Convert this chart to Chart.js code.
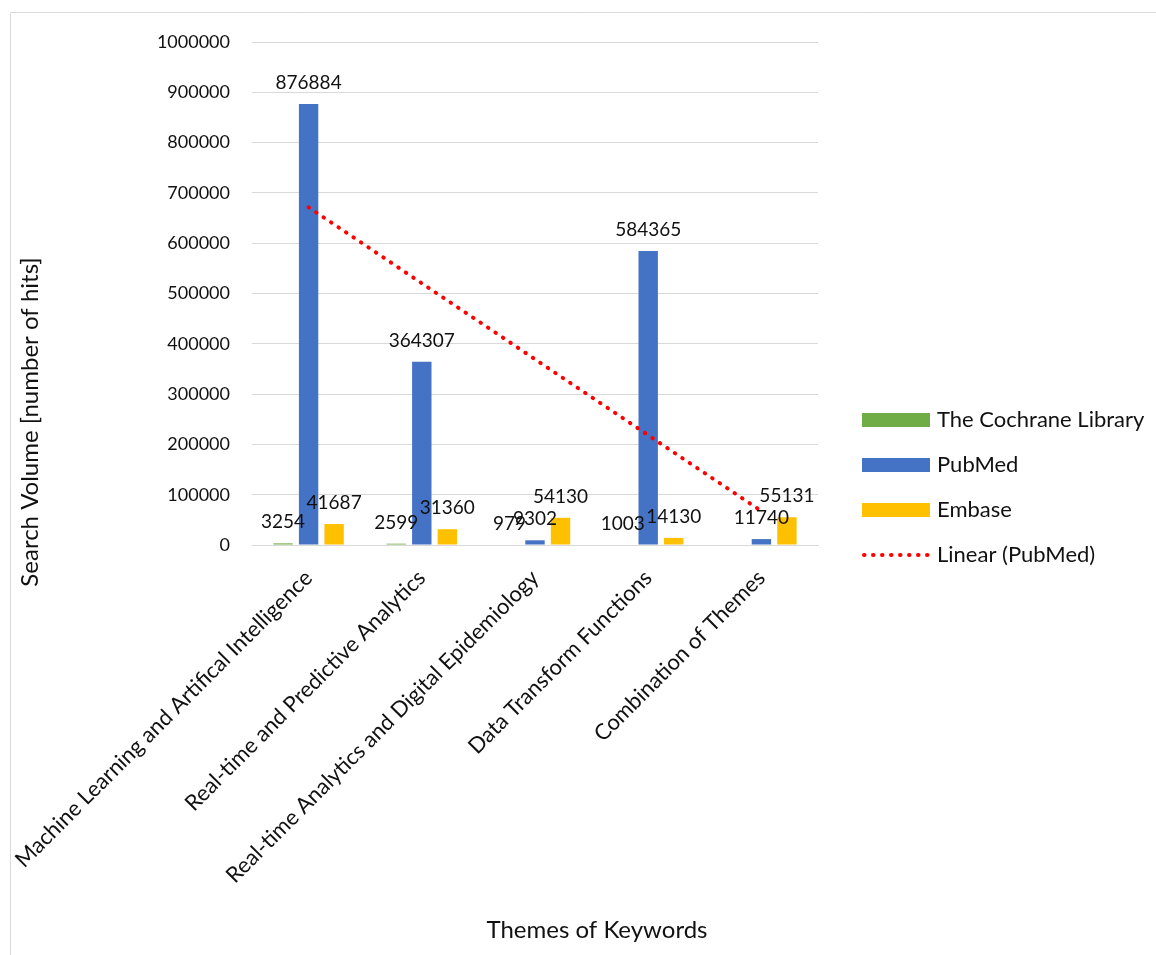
<!DOCTYPE html>
<html>
<head>
<meta charset="utf-8">
<script src="https://cdn.jsdelivr.net/npm/chart.js@4.4.0/dist/chart.umd.min.js"></script>
<style>
	html, body { margin: 0; padding: 0; background: #fff; }
	#chart { position: absolute; left: 0; top: 0; }
</style>
</head>
<body>
<canvas id="chart" width="1156" height="955"></canvas>
<script>
const categories = [
	'Machine Learning and Artifical Intelligence',
	'Real-time and Predictive Analytics',
	'Real-time Analytics and Digital Epidemiology',
	'Data Transform Functions',
	'Combination of Themes'
];
const cochrane = [3254, 2599, 979, 1003, null];
const pubmed = [876884, 364307, 9302, 584365, 11740];
const embase = [41687, 31360, 54130, 14130, 55131];
const yTicks = [0, 100000, 200000, 300000, 400000, 500000, 600000, 700000, 800000, 900000, 1000000];

// least squares line through the PubMed values (Excel "Linear" trendline)
function linearTrend(values) {
	const n = values.length;
	let sx = 0, sy = 0, sxy = 0, sxx = 0;
	values.forEach((v, i) => {
		const x = i + 1;
		sx += x; sy += v; sxy += x * v; sxx += x * x;
	});
	const slope = (n * sxy - sx * sy) / (n * sxx - sx * sx);
	const icpt = (sy - slope * sx) / n;
	return values.map((v, i) => icpt + slope * (i + 1));
}

const FONT = 'Lato, "Noto Sans", sans-serif';
const TEXT = '#111';

const frame = {
	id: 'frame',
	beforeDraw(chart) {
		const { ctx } = chart;
		ctx.save();
		ctx.strokeStyle = '#d9d9d9';
		ctx.lineWidth = 1;
		ctx.beginPath();
		ctx.moveTo(10.5, 955);
		ctx.lineTo(10.5, 12.5);
		ctx.lineTo(1156, 12.5);
		ctx.stroke();
		ctx.restore();
	}
}

const barLabels = {
	id: 'barLabels',
	afterDatasetsDraw(chart) {
		const { ctx } = chart;
		ctx.save();
		ctx.font = '19px ' + FONT;
		ctx.fillStyle = TEXT;
		ctx.textAlign = 'center';
		ctx.textBaseline = 'middle';
		chart.data.datasets.forEach((ds, i) => {
			if (ds.type === 'line') return;
			const meta = chart.getDatasetMeta(i);
			meta.data.forEach((bar, j) => {
				const v = ds.data[j];
				if (v === null || v === undefined) return;
				ctx.fillText(String(v), bar.x, bar.y - 21);
			});
		});
		ctx.restore();
	}
}

const sideBits = {
	id: 'sideBits',
	afterDraw(chart) {
		const { ctx } = chart;
		ctx.save();
		ctx.fillStyle = TEXT;

		// axis titles
		ctx.font = '24px ' + FONT;
		ctx.textAlign = 'center';
		ctx.textBaseline = 'middle';
		ctx.fillText('Themes of Keywords', 597, 930);
		ctx.save();
		ctx.translate(30, 422);
		ctx.rotate(-Math.PI / 2);
		ctx.fillText('Search Volume [number of hits]', 0, 0);
		ctx.restore();

		// legend
		ctx.font = '22px ' + FONT;
		ctx.textAlign = 'left';
		chart.data.datasets.forEach((ds, i) => {
			const y = 420 + i * 45;
			if (ds.type === 'line') {
				ctx.save();
				ctx.strokeStyle = ds.borderColor;
				ctx.lineWidth = ds.borderWidth;
				ctx.lineCap = 'round';
				ctx.setLineDash(ds.borderDash);
				ctx.beginPath();
				ctx.moveTo(864, y);
				ctx.lineTo(930, y);
				ctx.stroke();
				ctx.restore();
			} else {
				ctx.fillStyle = ds.backgroundColor;
				ctx.fillRect(862, y - 7, 68, 14);
			}
			ctx.fillStyle = TEXT;
			ctx.fillText(ds.label, 937, y);
		});
		ctx.restore();
	}
}

const barOpts = { categoryPercentage: 0.676, barPercentage: 0.76, borderWidth: 0 };

new Chart(document.getElementById('chart'), {
	type: 'bar',
	data: {
		labels: categories,
		datasets: [
			{ label: 'The Cochrane Library', data: cochrane, backgroundColor: '#70ad47', ...barOpts },
			{ label: 'PubMed', data: pubmed, backgroundColor: '#4472c4', ...barOpts },
			{ label: 'Embase', data: embase, backgroundColor: '#ffc000', ...barOpts },
			{
				type: 'line',
				label: 'Linear (PubMed)',
				data: linearTrend(pubmed),
				borderColor: '#ff0000',
				borderWidth: 4,
				borderDash: [0.5, 8.5],
				borderCapStyle: 'round',
				pointRadius: 0,
				fill: false,
				order: -1
			}
		]
	},
	options: {
		responsive: false,
		animation: false,
		layout: { padding: { left: 0, right: 338, top: 42, bottom: 0 } },
		plugins: {
			legend: { display: false },
			tooltip: { enabled: false }
		},
		scales: {
			x: {
				grid: { display: false },
				border: { color: '#d9d9d9', width: 1 },
				ticks: {
					color: TEXT,
					font: { family: FONT, size: 22 },
					minRotation: 45,
					maxRotation: 45,
					autoSkip: false,
					padding: 12
				},
				afterFit(scale) {
					scale.height = 410;
					scale.paddingLeft = 0;
					scale.paddingRight = 0;
				}
			},
			y: {
				min: 0,
				max: 1000000,
				afterBuildTicks(scale) { scale.ticks = yTicks.map(v => ({ value: v })); },
				grid: { color: '#d9d9d9', drawTicks: false },
				border: { display: false },
				ticks: {
					color: TEXT,
					font: { family: FONT, size: 18 },
					padding: 22,
					callback: v => String(v)
				},
				afterFit(scale) { scale.width = 252; }
			}
		}
	},
	plugins: [frame, barLabels, sideBits]
});
</script>
</body>
</html>
